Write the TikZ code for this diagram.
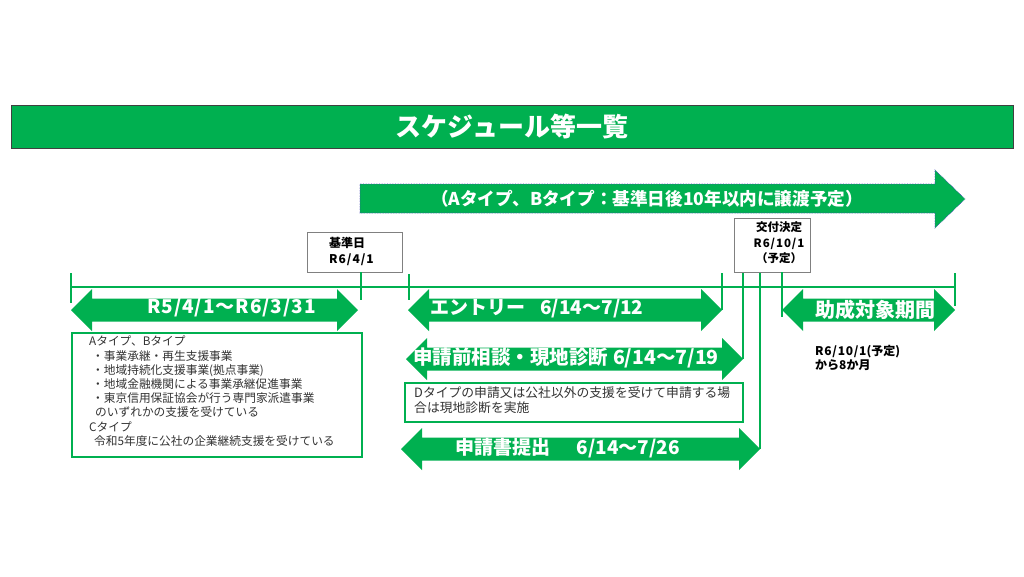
\documentclass[tikz,border=0pt]{standalone}
\usepackage{fontspec}
\setmainfont{Noto Sans CJK JP}
\definecolor{G}{HTML}{00B050}
\definecolor{txt}{HTML}{333333}
\newcommand{\dblarrow}[4]{%
  \fill[G] (#1,#3) -- (#1+21,#3-21) -- (#1+21,#3-11.5) -- (#2-21,#3-11.5) -- (#2-21,#3-21)
    -- (#2,#3) -- (#2-21,#3+21) -- (#2-21,#3+11.5) -- (#1+21,#3+11.5) -- (#1+21,#3+21) -- cycle;
  \coordinate (#4L) at (#1,#3);
  \coordinate (#4R) at (#2,#3);}
\begin{document}
\begin{tikzpicture}[x=1pt,y=-1pt,
  lbl/.style={text=white,font=\bfseries\fontsize{19}{19}\selectfont,inner sep=0pt,anchor=west},
  tline/.style={draw=G,line width=2.8pt},
  tick/.style={draw=G,line width=2.3pt},
  datebox/.style={draw=black!50,fill=white,line width=0.7pt,inner sep=0pt},
  gbox/.style={draw=G,line width=2.2pt,fill=white,inner sep=0pt},
  small/.style={text=txt,font=\fontsize{11.7}{14.2}\selectfont,inner sep=0pt,align=left},
  smallb/.style={text=black,font=\bfseries\fontsize{12}{16}\selectfont,inner sep=0pt},
]
\useasboundingbox (0,0) rectangle (1024,576);
\fill[white] (0,0) rectangle (1024,576);

% title bar
\node[draw=black!75,fill=G,line width=1pt,minimum width=1002pt,minimum height=43pt,inner sep=0pt] (bar) at (512,126.5) {};
\node[text=white,font=\bfseries\fontsize{26}{26}\selectfont,inner sep=0pt] (title) at (512,127) {スケジュール等一覧};

% big arrow
\draw[fill=G,draw=blue!45!gray,densely dotted,line width=0.6pt]
  (360,184) -- (935,184) -- (935,170) -- (965,199) -- (935,228) -- (935,213) -- (360,213) -- cycle;
\node[text=white,font=\bfseries\fontsize{17.6}{17.6}\selectfont,inner sep=0pt] (ab) at (647,199)
  {（Aタイプ、Bタイプ：基準日後10年以内に譲渡予定）};

% date boxes
\node[datebox,minimum width=95pt,minimum height=40pt] (kj) at (354.5,252) {};
\node[smallb,align=left,anchor=west] (kjt) at (329,251) {基準日\\{\addfontfeature{LetterSpace=8}R6/4/1}};
\node[datebox,minimum width=76pt,minimum height=54pt] (kf) at (772,245) {};
\node[smallb,align=center,font=\bfseries\fontsize{11.5}{15.5}\selectfont] (kft) at (779,243)
  {交付決定\\ {\addfontfeature{LetterSpace=8}R6/10/1}\\（予定）};

% arrows
\dblarrow{71}{358}{310}{a}
\dblarrow{408}{722}{310}{b}
\dblarrow{782}{955}{310}{c}
\dblarrow{406}{743}{359}{d}
\dblarrow{401}{760}{449}{e}

% timeline
\coordinate (t0) at (71,287);
\coordinate (t1) at (955,287);
\draw[tline] (t0) -- (t1);
\draw[tick] (71,273) -- (71,303);
\draw[tick] (kj.south -| 361,0) -- (361,300);
\draw[tick] (409,274) -- (409,300);
\draw[tick] (722,273) -- (bR);
\draw[tick] (743,273) -- (dR);
\draw[tick] (760,273) -- (eR);
\draw[tick] (kf.south -| 782,0) -- (782,317);
\draw[tick] (955,273) -- (955,306);

% arrow labels
\node[lbl] (la) at (147,308) {\addfontfeature{LetterSpace=5}R5/4/1～R6/3/31};
\node[lbl] (lb) at (430,309) {エントリー\hspace{0.8em}6/14～7/12};
\node[lbl,font=\bfseries\fontsize{20}{20}\selectfont] (lc) at (815,310) {助成対象期間};
\node[lbl,font=\bfseries\fontsize{19.5}{19.5}\selectfont] (ld) at (413,358) {申請前相談・現地診断\hspace{0.25em}6/14～7/19};
\node[lbl] (le) at (455,448) {申請書提出\hspace{1.4em}6/14～7/26};

% left box
\node[gbox,minimum width=290pt,minimum height=124pt] (lbox) at (217,395) {};
\node[small,anchor=north west] (lboxt) at (89,336) {%
Aタイプ、Bタイプ\\
\hspace*{3pt}・事業承継・再生支援事業\\
\hspace*{3pt}・地域持続化支援事業(拠点事業)\\
\hspace*{3pt}・地域金融機関による事業承継促進事業\\
\hspace*{3pt}・東京信用保証協会が行う専門家派遣事業\\
\hspace*{6pt}のいずれかの支援を受けている\\
Cタイプ\\
\hspace*{5pt}令和5年度に公社の企業継続支援を受けている};

% D box
\node[gbox,minimum width=338pt,minimum height=39pt] (dbox) at (574,402.5) {};
\node[small,anchor=north west,font=\fontsize{12.8}{15.5}\selectfont] (dboxt) at (414,386) {%
Dタイプの申請又は公社以外の支援を受けて申請する場\\合は現地診断を実施};

% note
\node[smallb,anchor=west,align=left,font=\bfseries\fontsize{12}{14}\selectfont] (note) at (815,358)
  {{\addfontfeature{LetterSpace=6}R6/10/1}(予定)\\から{\addfontfeature{LetterSpace=30}8}か月};
\end{tikzpicture}
\end{document}
